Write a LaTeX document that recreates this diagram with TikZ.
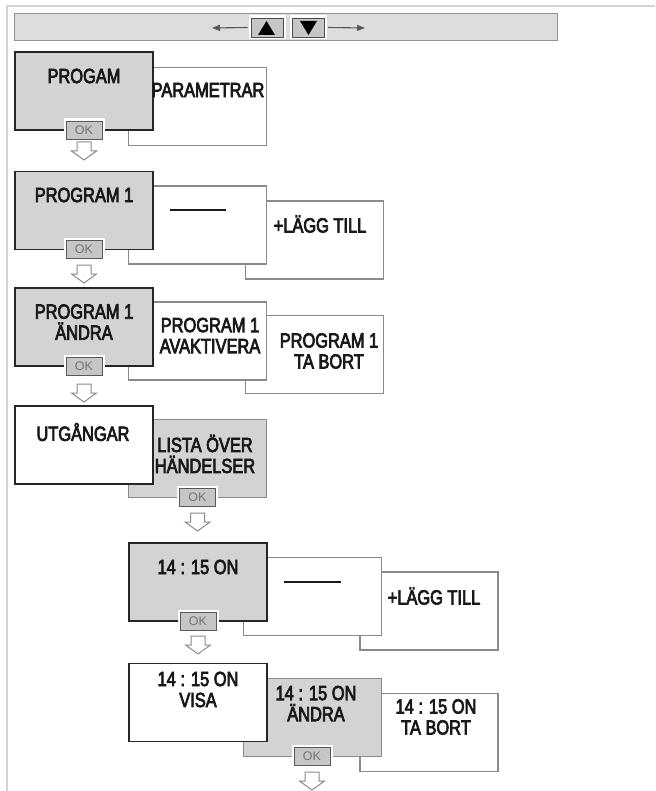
\documentclass[tikz,border=0pt]{standalone}
\usepackage{fontspec}
\setmainfont[FakeStretch=0.8,FakeBold=3.5]{Liberation Sans}
\newfontfamily\keyfont{Liberation Sans}
\usetikzlibrary{arrows.meta}
\definecolor{panel}{HTML}{D3D3D5}
\definecolor{barfill}{HTML}{DDDDDF}
\definecolor{keyfill}{HTML}{C6C6C8}
\definecolor{edge}{HTML}{8A8A8A}
\definecolor{frameline}{HTML}{D2D2D2}

% hollow block arrow pointing down, top centre at (#1,#2)
\newcommand{\downstep}[2]{%
  \draw[hollow] ({#1-7},#2) -- ({#1+7},#2) -- ({#1+7},{#2+9}) -- ({#1+12.5},{#2+9})
    -- (#1,{#2+18}) -- ({#1-12.5},{#2+9}) -- ({#1-7},{#2+9}) -- cycle;}

\begin{document}
\begin{tikzpicture}[x=1pt,y=-1pt,
  screen/.style={rectangle,minimum width=138pt,minimum height=78pt,inner sep=0pt},
  frontbox/.style={screen,draw=black!85,line width=1.6pt,fill=panel},
  backbox/.style={screen,draw=edge,line width=1.1pt,fill=white},
  whitebox/.style={fill=white},
  greybox/.style={fill=panel},
  lbl/.style={font=\fontsize{20.5}{21}\selectfont,align=center,inner sep=0pt,text=black!90},
  okkey/.style={draw=black!65,line width=0.9pt,fill=keyfill,minimum width=36pt,minimum height=18pt,inner sep=0pt,
    font=\keyfont\fontsize{12.5}{12.5}\selectfont,text=black!55,preaction={draw=white,line width=5pt}},
  barkey/.style={draw=black!70,line width=0.9pt,fill=keyfill,minimum width=32pt,minimum height=19pt,inner sep=0pt,
    preaction={draw=white,line width=5pt}},
  hollow/.style={draw=edge,fill=white,line width=1pt,line join=miter},
  dashline/.style={draw=black!90,line width=1.8pt}]
\useasboundingbox (0,0) rectangle (655,791);
\draw[frameline,line width=1.4pt] (7,791) -- (7,6) -- (655,6);

% selector bar
\node[draw=gray!85,line width=1pt,fill=barfill,minimum width=543pt,minimum height=27pt,inner sep=0pt] (bar) at (285.5,27.5) {};
\node[barkey] (up) at (267,27.5) {};
\node[barkey] (down) at (308.5,27.5) {};
\fill[black] (258,35) -- (275,35) -- (266.5,21) -- cycle;
\fill[black] (300,21) -- (317,21) -- (308.5,35) -- cycle;
\coordinate (leftend) at (212,28);
\coordinate (rightend) at (365,28);
\draw[black!65,line width=1.1pt,-{Triangle[length=8pt,width=6pt]}] (up.west) ++(-3,0) -- (leftend);
\draw[black!65,line width=1.1pt,-{Triangle[length=8pt,width=6pt]}] (down.east) ++(3,0) -- (rightend);

% row 1
\node[backbox] (param) at (197.5,106.5) {};
\node[frontbox] (progam) at (84,91) {};
\node[lbl] (tprogam) at (84,76) {PROGAM};
\node[lbl] (tparam) at (208,90) {PARAMETRAR};

% row 2
\node[backbox] (add1) at (314.5,240) {};
\node[backbox] (empty1) at (197.5,225) {};
\node[frontbox] (prog1) at (84,210.5) {};
\node[lbl] (tprog1) at (84,195) {PROGRAM 1};
\draw[dashline] (170,210) -- (226,210);
\node[lbl] (tadd1) at (320,224) {+LÄGG TILL};

% row 3
\node[backbox] (remove1) at (314.5,354.5) {};
\node[backbox] (deact1) at (197.5,341) {};
\node[frontbox] (edit1) at (84,327) {};
\node[lbl] (tedit1) at (84,322) {PROGRAM 1\\ÄNDRA};
\node[lbl] (tdeact1) at (210,335.5) {PROGRAM 1\\AVAKTIVERA};
\node[lbl] (tremove1) at (329,351) {PROGRAM 1\\TA BORT};

% row 4
\node[backbox,greybox] (events) at (197.5,458.5) {};
\node[frontbox,whitebox] (outputs) at (84,445) {};
\node[lbl] (toutputs) at (83,432) {UTGÅNGAR};
\node[lbl] (tevents) at (205,454) {LISTA ÖVER\\HÄNDELSER};

% row 5
\node[backbox] (add2) at (429,611) {};
\node[backbox] (empty2) at (312.5,596.5) {};
\node[frontbox] (event) at (198,582) {};
\node[lbl] (tevent) at (198,567) {14 : 15 ON};
\draw[dashline] (284,582) -- (341,582);
\node[lbl] (tadd2) at (434,596) {+LÄGG TILL};

% row 6
\node[backbox] (remove2) at (429,732.5) {};
\node[backbox,greybox] (edit2) at (312.5,717.5) {};
\node[frontbox,whitebox] (show2) at (198,702.5) {};
\node[lbl] (tshow2) at (198,689.5) {14 : 15 ON\\VISA};
\node[lbl] (tedit2) at (316,703.5) {14 : 15 ON\\ÄNDRA};
\node[lbl] (tremove2) at (436,717) {14 : 15 ON\\TA BORT};

% OK keys and steps down
\foreach \k/\x/\y/\t in {ok1/84/130/142, ok2/84/249.5/265, ok3/84/366/384,
                         ok4/197.5/497.5/513, ok5/198/621/636, ok6/312/756.5/772} {
  \node[okkey] (\k) at (\x,\y) {OK};
  \downstep{\x}{\t}
}
\end{tikzpicture}
\end{document}
